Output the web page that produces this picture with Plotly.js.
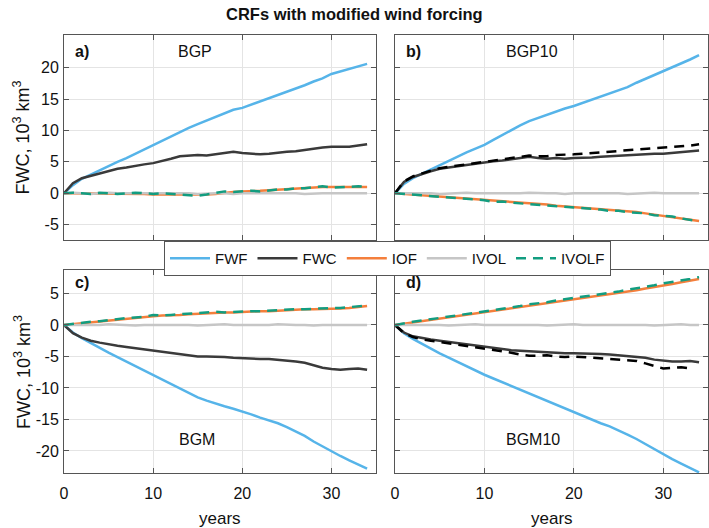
<!DOCTYPE html>
<html>
<head>
<meta charset="utf-8">
<script src="https://cdn.plot.ly/plotly-3.0.1.min.js"></script>
<style>
  html, body { margin: 0; padding: 0; background: #fff; }
  #chart { width: 709px; height: 528px; }
</style>
</head>
<body>
<div id="chart"></div>
<script>
'use strict';

// model years since start of run
const years = [0, 1, 2, 3, 4, 5, 6, 7, 8, 9, 10, 11, 12, 13, 14, 15, 16, 17, 18, 19,
  20, 21, 22, 23, 24, 25, 26, 27, 28, 29, 30, 31, 32, 33, 34];

// a) BGP
const fwfA = [0, 1.3, 2.3, 3.0, 3.7, 4.3, 5.0, 5.6, 6.3, 7.0, 7.7, 8.3, 9.0, 9.7, 10.4, 11.0, 11.6, 12.2, 12.8, 13.3,
  13.6, 14.1, 14.6, 15.1, 15.6, 16.1, 16.7, 17.2, 17.8, 18.3, 19.0, 19.4, 19.8, 20.2, 20.6];
const fwcA = [0, 1.6, 2.4, 2.8, 3.2, 3.6, 3.9, 4.1, 4.4, 4.6, 4.8, 5.1, 5.5, 5.9, 6.0, 6.1, 6.0, 6.2, 6.4, 6.6,
  6.4, 6.3, 6.2, 6.3, 6.5, 6.6, 6.7, 6.9, 7.2, 7.3, 7.4, 7.4, 7.4, 7.6, 7.8];
const iofA = [0, 0, 0, -0.1, -0.1, -0.1, -0.1, -0.1, -0.1, -0.1, -0.2, -0.2, -0.2, -0.2, -0.2, -0.3, -0.2, -0.1, 0.1, 0.2,
  0.3, 0.3, 0.4, 0.5, 0.6, 0.7, 0.7, 0.8, 0.9, 1.0, 1.0, 1.0, 0.9, 1.0, 1.0];
const ivolA = [0, 0.1, 0, -0.1, 0, 0.1, 0, 0, 0.1, 0, 0, 0.1, 0, 0, 0, -0.1, 0, 0, 0, -0.1,
  0, 0, 0, 0.1, 0, 0, 0, -0.1, 0, 0, 0, 0, -0.1, 0, 0];
const ivolfA = [0, 0.1, 0, -0.1, 0.1, 0, -0.1, 0, 0.1, 0, -0.1, 0, -0.1, -0.2, -0.3, -0.4, -0.2, 0.1, 0.3, 0.2,
  0.3, 0.4, 0.3, 0.5, 0.6, 0.6, 0.8, 0.8, 1.0, 1.1, 0.9, 1.0, 1.0, 1.1, 1.0];

// b) BGP10
const fwfB = [0, 1.5, 2.4, 3.1, 3.8, 4.5, 5.2, 5.8, 6.5, 7.1, 7.7, 8.5, 9.3, 10.0, 10.8, 11.5, 12.0, 12.6, 13.0, 13.5,
  13.9, 14.4, 14.9, 15.3, 15.8, 16.3, 16.9, 17.6, 18.2, 18.9, 19.5, 20.0, 20.6, 21.3, 22.0];
const fwcB = [0, 1.8, 2.6, 3.1, 3.5, 3.9, 4.1, 4.3, 4.5, 4.7, 5.0, 5.1, 5.2, 5.4, 5.6, 5.8, 5.6, 5.5, 5.6, 5.5,
  5.6, 5.6, 5.7, 5.8, 5.9, 6.0, 6.1, 6.1, 6.2, 6.3, 6.3, 6.4, 6.5, 6.6, 6.8];
const fwcAltB = [0, 1.9, 2.7, 3.2, 3.6, 4.0, 4.2, 4.4, 4.7, 4.9, 5.1, 5.3, 5.5, 5.7, 5.9, 6.0, 5.9, 5.9, 6.1, 6.1,
  6.2, 6.3, 6.4, 6.5, 6.6, 6.7, 6.8, 6.9, 7.0, 7.1, 7.3, 7.4, 7.5, 7.6, 7.8];
const iofB = [0, -0.1, -0.2, -0.3, -0.4, -0.5, -0.6, -0.7, -0.8, -0.9, -1.1, -1.2, -1.3, -1.4, -1.5, -1.6, -1.7, -1.8, -2.0, -2.1,
  -2.2, -2.3, -2.4, -2.5, -2.7, -2.8, -2.9, -3.0, -3.2, -3.4, -3.5, -3.7, -3.9, -4.1, -4.4];
const ivolB = [0, 0, 0.1, 0, 0, -0.1, 0, 0, 0.1, 0, 0, 0, -0.1, 0, 0, 0.1, 0, 0, 0, -0.1,
  0, 0, 0.1, 0, 0, 0, -0.1, 0, 0, 0.1, 0, 0, 0, 0, 0];
const ivolfB = [0, -0.1, -0.3, -0.3, -0.4, -0.6, -0.6, -0.7, -0.9, -1.0, -1.1, -1.4, -1.3, -1.5, -1.6, -1.7, -1.9, -1.9, -2.0, -2.2,
  -2.2, -2.4, -2.5, -2.6, -2.8, -2.8, -3.0, -3.1, -3.2, -3.5, -3.6, -3.7, -4.0, -4.2, -4.5];

// c) BGM
const fwfC = [0, -1.2, -2.1, -2.9, -3.7, -4.4, -5.1, -5.8, -6.5, -7.2, -7.9, -8.6, -9.4, -10.1, -10.8, -11.5, -12.0, -12.5, -12.9, -13.3,
  -13.7, -14.2, -14.7, -15.1, -15.6, -16.2, -16.9, -17.6, -18.5, -19.3, -20.1, -20.8, -21.5, -22.1, -22.8];
const fwcC = [0, -1.3, -2.0, -2.5, -2.8, -3.1, -3.3, -3.5, -3.7, -3.9, -4.0, -4.2, -4.4, -4.6, -4.9, -5.0, -5.0, -5.0, -5.1, -5.2,
  -5.3, -5.3, -5.4, -5.4, -5.5, -5.6, -5.8, -6.0, -6.4, -6.8, -7.0, -7.1, -7.0, -6.9, -7.1];
const iofC = [0, 0.15, 0.3, 0.45, 0.6, 0.75, 0.9, 1.0, 1.1, 1.3, 1.4, 1.5, 1.5, 1.6, 1.7, 1.8, 1.8, 1.9, 2.0, 2.0,
  2.1, 2.1, 2.2, 2.2, 2.3, 2.4, 2.4, 2.5, 2.5, 2.5, 2.6, 2.6, 2.7, 2.8, 3.0];
const ivolC = [0, 0, -0.1, 0, 0, 0.1, 0, 0, -0.1, 0, 0, 0, 0.1, 0, 0, -0.1, 0, 0, 0.1, 0,
  0, -0.1, 0, 0, 0.1, 0, 0, 0, -0.1, 0, 0, 0.1, 0, 0, 0];
const ivolfC = [0, 0.2, 0.3, 0.5, 0.6, 0.8, 0.9, 1.1, 1.2, 1.3, 1.6, 1.5, 1.6, 1.7, 1.8, 1.8, 1.9, 2.1, 2.0, 2.1,
  2.1, 2.2, 2.2, 2.3, 2.3, 2.4, 2.5, 2.5, 2.6, 2.6, 2.7, 2.7, 2.8, 2.9, 3.1];

// d) BGM10
const fwfD = [0, -1.3, -2.2, -3.0, -3.8, -4.5, -5.2, -5.9, -6.6, -7.3, -7.9, -8.5, -9.1, -9.6, -10.2, -10.8, -11.4, -12.0, -12.6, -13.2,
  -13.8, -14.4, -15.0, -15.6, -16.1, -16.7, -17.4, -18.1, -18.9, -19.8, -20.6, -21.3, -22.0, -22.7, -23.4];
const fwcD = [0, -1.2, -1.8, -2.1, -2.3, -2.5, -2.7, -2.9, -3.1, -3.3, -3.4, -3.6, -3.8, -4.0, -4.1, -4.2, -4.3, -4.4, -4.4, -4.5,
  -4.5, -4.5, -4.6, -4.6, -4.7, -4.8, -4.9, -5.0, -5.2, -5.5, -5.7, -5.8, -5.8, -5.7, -5.9];
const fwcAltD = [0, -1.3, -1.9, -2.3, -2.5, -2.7, -2.9, -3.1, -3.3, -3.5, -3.7, -3.9, -4.2, -4.4, -4.7, -4.9, -4.9, -4.8, -5.0, -5.1,
  -5.0, -5.1, -5.2, -5.2, -5.3, -5.5, -5.6, -5.7, -6.1, -6.5, -6.9, -6.8, -6.7, -6.9];
const iofD = [0, 0.2, 0.4, 0.6, 0.8, 1.0, 1.2, 1.4, 1.6, 1.8, 2.0, 2.2, 2.4, 2.6, 2.8, 3.0, 3.2, 3.4, 3.6, 3.8,
  4.0, 4.2, 4.4, 4.6, 4.8, 5.0, 5.3, 5.5, 5.8, 6.0, 6.3, 6.5, 6.8, 7.0, 7.3];
const ivolD = [0, 0, 0.1, 0, 0, 0, -0.1, 0, 0, 0.1, 0, 0, 0, 0.1, 0, 0, 0, -0.1, 0, 0,
  0.1, 0, 0, 0, 0.1, 0, 0, 0, 0, -0.1, 0, 0, 0.1, 0, 0];
const ivolfD = [0, 0.3, 0.5, 0.7, 0.9, 1.2, 1.4, 1.6, 1.8, 2.0, 2.2, 2.4, 2.6, 2.8, 3.0, 3.3, 3.4, 3.6, 3.9, 4.1,
  4.2, 4.4, 4.7, 4.8, 5.1, 5.3, 5.6, 5.8, 6.1, 6.3, 6.6, 6.8, 7.0, 7.3, 7.6];

const seriesNames = ['FWF', 'FWC', 'IOF', 'IVOL', 'IVOLF'];
const panelNames = ['BGP', 'BGP10', 'BGM', 'BGM10'];
const panelLetters = ['a)', 'b)', 'c)', 'd)'];
const xTicks = [0, 10, 20, 30];
const yTicksTop = [-5, 0, 5, 10, 15, 20];
const yTicksBottom = [-20, -15, -10, -5, 0, 5];

const COLORS = {
  FWF: '#56b4e9',
  FWC: '#3a3a3a',
  IOF: '#f47f3c',
  IVOL: '#c6c6c6',
  IVOLF: '#129d80',
  ALT: '#000000'
};
const FONT = 'Liberation Sans, Arial, Helvetica, sans-serif';
const AXIS_COLOR = '#555555';
const W = 709, H = 528;

const panels = [
  { xa: 'x', ya: 'y', data: [fwfA, fwcA, iofA, ivolA, ivolfA], alt: null },
  { xa: 'x2', ya: 'y2', data: [fwfB, fwcB, iofB, ivolB, ivolfB], alt: fwcAltB },
  { xa: 'x3', ya: 'y3', data: [fwfC, fwcC, iofC, ivolC, ivolfC], alt: null },
  { xa: 'x4', ya: 'y4', data: [fwfD, fwcD, iofD, ivolD, ivolfD], alt: fwcAltD }
];

const traces = [];
panels.forEach((p, i) => {
  p.data.forEach((vals, k) => {
    const name = seriesNames[k];
    traces.push({
      x: years.slice(0, vals.length),
      y: vals,
      name: name,
      type: 'scatter',
      mode: 'lines',
      xaxis: p.xa,
      yaxis: p.ya,
      showlegend: i === 0,
      legendrank: k + 1,
      line: {
        color: COLORS[name],
        width: 2.5,
        dash: name === 'IVOLF' ? '10px,7px' : 'solid'
      }
    });
    // black dashed FWC run drawn just above the solid FWC
    if (name === 'FWC' && p.alt) {
      traces.push({
        x: years.slice(0, p.alt.length),
        y: p.alt,
        name: 'FWC alt',
        type: 'scatter',
        mode: 'lines',
        xaxis: p.xa,
        yaxis: p.ya,
        showlegend: false,
        line: { color: COLORS.ALT, width: 2.5, dash: '10px,7px' }
      });
    }
  });
});

// pixel boxes of the four panels
const px = (l, r) => [l / W, r / W];
const py = (top, bottom) => [1 - bottom / H, 1 - top / H];

// MATLAB-style hyphen minus in tick labels
const tickText = ticks => ticks.map(t => String(t));

function baseAxis() {
  return {
    ticks: 'inside',
    ticklen: 5,
    tickcolor: AXIS_COLOR,
    showline: true,
    linecolor: AXIS_COLOR,
    linewidth: 1,
    mirror: 'ticks',
    showgrid: true,
    gridcolor: '#e4e4e4',
    zeroline: false,
    tickfont: { family: FONT, size: 16, color: '#111' }
  };
}

function xAxis(domain, anchor, labels) {
  return Object.assign(baseAxis(), {
    domain: domain,
    anchor: anchor,
    range: [0, 35],
    tickvals: xTicks,
    ticktext: tickText(xTicks),
    showticklabels: labels,
    ticklabelstandoff: 6
  });
}

function yAxis(domain, anchor, range, ticks, labels) {
  return Object.assign(baseAxis(), {
    domain: domain,
    anchor: anchor,
    range: range,
    tickvals: ticks,
    ticktext: tickText(ticks),
    showticklabels: labels,
    ticklabelstandoff: 1
  });
}

const rangeTop = [-7.44, 25.2];
const rangeBottom = [-23.5, 8.73];

const annotations = [];
const labelY = [22.5, 22.5, 6.67, 6.67];
const nameY = [22.5, 22.5, -18.25, -18.25];
const nameX = [14.7, 15.3, 14.9, 15.4];
panels.forEach((p, i) => {
  annotations.push({
    xref: p.xa, yref: p.ya, x: 1.0, y: labelY[i],
    text: '<b>' + panelLetters[i] + '</b>', showarrow: false,
    xanchor: 'left', yanchor: 'middle',
    font: { family: FONT, size: 16, color: '#111' }
  });
  annotations.push({
    xref: p.xa, yref: p.ya, x: nameX[i], y: nameY[i],
    text: panelNames[i], showarrow: false,
    xanchor: 'center', yanchor: 'middle',
    font: { family: FONT, size: 16, color: '#111' }
  });
});

// axis titles
const yTitle = 'FWC, 10<sup>3</sup> km<sup>3</sup>';
[137.5, 372].forEach(cy => {
  annotations.push({
    xref: 'paper', yref: 'paper', x: 22 / W, y: 1 - cy / H,
    text: yTitle, textangle: -90, showarrow: false,
    xanchor: 'center', yanchor: 'middle',
    font: { family: FONT, size: 18, color: '#111' }
  });
});
[220, 551.5].forEach(cx => {
  annotations.push({
    xref: 'paper', yref: 'paper', x: cx / W, y: 1 - 518 / H,
    text: 'years', showarrow: false,
    xanchor: 'center', yanchor: 'middle',
    font: { family: FONT, size: 17, color: '#111' }
  });
});
annotations.push({
  xref: 'paper', yref: 'paper', x: 0.5, y: 1 - 14 / H,
  text: '<b>CRFs with modified wind forcing</b>', showarrow: false,
  xanchor: 'center', yanchor: 'middle',
  font: { family: FONT, size: 16.5, color: '#111' }
});

const layout = {
  width: W,
  height: H,
  margin: { l: 0, r: 0, t: 0, b: 0 },
  paper_bgcolor: '#fff',
  plot_bgcolor: '#fff',
  showlegend: true,
  legend: {
    orientation: 'h',
    x: 164 / W,
    y: 1 - 241 / H,
    xanchor: 'left',
    yanchor: 'top',
    bgcolor: '#fff',
    bordercolor: AXIS_COLOR,
    borderwidth: 1,
    itemwidth: 40,
    font: { family: FONT, size: 15, color: '#111' }
  },
  xaxis: xAxis(px(64, 376), 'y', false),
  yaxis: yAxis(py(35, 240), 'x', rangeTop, yTicksTop, true),
  xaxis2: xAxis(px(395, 708), 'y2', false),
  yaxis2: yAxis(py(35, 240), 'x2', rangeTop, yTicksTop, false),
  xaxis3: xAxis(px(64, 376), 'y3', true),
  yaxis3: yAxis(py(270, 473), 'x3', rangeBottom, yTicksBottom, true),
  xaxis4: xAxis(px(395, 708), 'y4', true),
  yaxis4: yAxis(py(270, 473), 'x4', rangeBottom, yTicksBottom, false),
  annotations: annotations
};

Plotly.newPlot('chart', traces, layout, { displayModeBar: false, staticPlot: true });
</script>
</body>
</html>
